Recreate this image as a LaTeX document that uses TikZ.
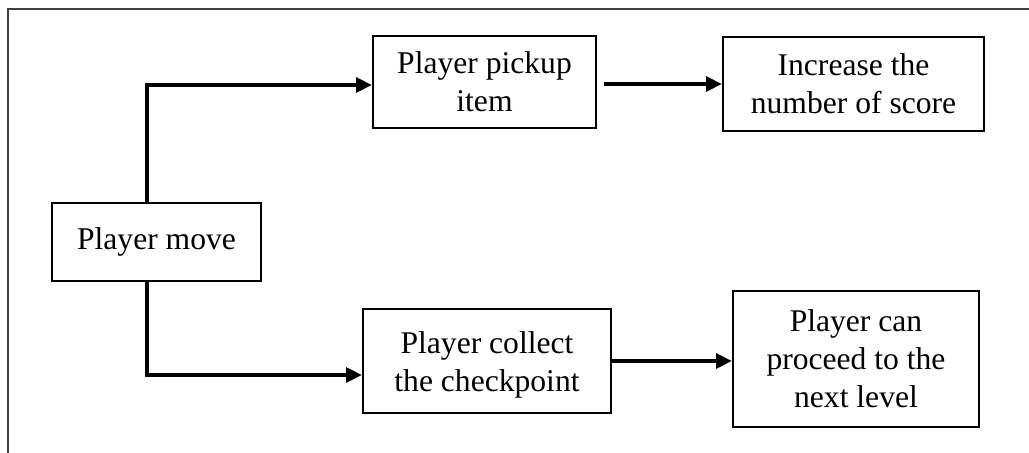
\documentclass[tikz,border=0pt]{standalone}
\usepackage{fontspec}
\setmainfont{Liberation Serif}
\usetikzlibrary{arrows.meta,calc}
\begin{document}
\begin{tikzpicture}[x=0.75pt,y=-0.75pt,
  label text/.style={align=center, inner sep=0pt,
    font=\fontsize{23.7}{28.5}\selectfont},
  box/.style={draw, line width=1.5pt, label text},
  flow/.style={line width=3pt, -{Triangle[length=12pt,width=11pt]}}]
\useasboundingbox (0,0) rectangle (1029,453);
% page frame
\draw[line width=1pt, black!75] (8,453) -- (8,9) -- (1029,9);
% boxes
\node[box, minimum width=156.75pt, minimum height=58.5pt] (move) at (156.5,242) {Player move};
\node[box, minimum width=167.25pt, minimum height=69pt] (pickup) at (484.5,82) {Player pickup\\item};
\node[box, minimum width=195.75pt, minimum height=70.5pt] (score) at (853.5,84) {Increase the\\number of score};
\node[box, minimum width=186pt, minimum height=78pt] (collect) at (487,361) {};
\node[label text] (collecttext) at (487,365) {Player collect\\the checkpoint};
\node[box, minimum width=184.5pt, minimum height=102pt] (level) at (856,359) {Player can\\proceed to the\\next level};
% connectors
\draw[flow] ([xshift=-7.1pt]move.north) |- ([yshift=-2.25pt]pickup.west);
\draw[flow] ([xshift=-7.1pt]move.south) |- ([yshift=-10.5pt]collect.west);
\draw[flow] ($(pickup.east|-score.west)+(7,0)$) -- (score.west);
\draw[flow] (collect.east) -- (collect.east -| level.west);
\end{tikzpicture}
\end{document}
